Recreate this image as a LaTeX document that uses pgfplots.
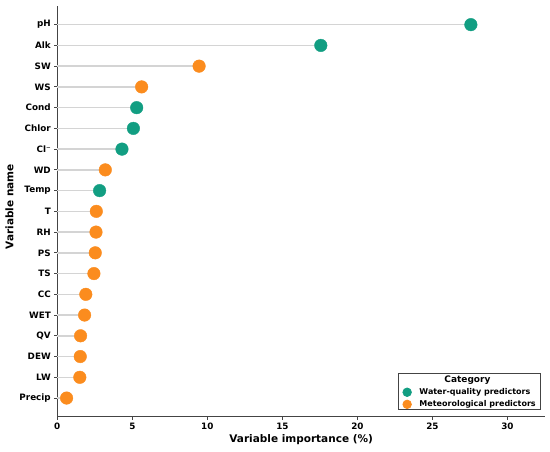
\documentclass[border=0pt]{standalone}
\usepackage{pgfplots}
\pgfplotsset{compat=1.18}
\usepackage{fontspec}
\setmainfont{DejaVu Sans}
\definecolor{wq}{HTML}{129E82}
\definecolor{met}{HTML}{FB8C1E}
\definecolor{stemc}{HTML}{D4D4D4}
\definecolor{spine}{HTML}{444444}
\pgfplotstableread{
y val
18 27.56
17 17.56
14 5.29
13 5.07
12 4.31
10 2.82
}\wqdata
\pgfplotstableread{
y val
16 9.45
15 5.62
11 3.20
9 2.60
8 2.58
7 2.53
6 2.44
5 1.90
4 1.82
3 1.55
2 1.53
1 1.50
0 0.62
}\metdata
\pgfplotsset{dotleg/.style={legend image code/.code={\draw[##1,mark size=4.3pt] plot coordinates {(0.2cm,0cm)}; \path (0cm,0cm) (0.55cm,0cm);}}}
\begin{document}
\begin{tikzpicture}
\begin{axis}[
 at={(0,0)}, anchor=south west,
 scale only axis, width=487.7pt, height=410.7pt,
 xmin=0, xmax=32.5, ymin=-0.9, ymax=18.9,
 axis x line*=bottom, axis y line*=left,
 axis line style={-, spine, line width=0.9pt},
 xtick={0,5,...,30},
 ytick={0,...,18},
 yticklabels={Precip,LW,DEW,QV,WET,CC,TS,PS,RH,T,Temp,WD,Cl⁻,Chlor,Cond,WS,SW,Alk,pH},
 tick align=outside, major tick length=3pt,
 tick style={spine, line width=0.9pt},
 ticklabel style={font=\fontsize{8.8}{10}\selectfont\bfseries},
 /pgf/number format/assume math mode=true,
 xlabel={Variable importance (\%)}, ylabel={Variable name},
 label style={font=\fontsize{10.5}{12}\selectfont\bfseries},
 xlabel style={at={(axis description cs:0.5,0)}, anchor=center, yshift=-23.3pt},
 ylabel style={at={(axis description cs:-0.098,0.511)}, anchor=center},
 legend style={at={(0.992,0.0163)}, anchor=south east, draw=spine, line width=0.7pt,
   font=\fontsize{8}{9}\selectfont\bfseries, row sep=3.5pt, inner xsep=3pt, inner ysep=1pt,
   nodes={inner ysep=0pt}},
 legend cell align=left,
 clip=false,
]
\addplot[xcomb, stemc, line width=1.4pt, forget plot] table[x=val,y=y] {\wqdata};
\addplot[xcomb, stemc, line width=1.4pt, forget plot] table[x=val,y=y] {\metdata};
\addlegendimage{empty legend}
\addlegendentry{\hspace*{25pt}\rule{0pt}{9pt}\fontsize{9}{10}\selectfont Category}
\addplot[only marks, mark=*, mark size=6.3pt, color=wq, mark options={fill=wq, draw=wq}, dotleg] table[x=val,y=y] {\wqdata};
\addlegendentry{Water-quality predictors}
\addplot[only marks, mark=*, mark size=6.3pt, color=met, mark options={fill=met, draw=met}, dotleg] table[x=val,y=y] {\metdata};
\addlegendentry{Meteorological predictors}
\end{axis}
\pgfresetboundingbox
\useasboundingbox (-57.3pt,-34.3pt) rectangle (492.7pt,416.7pt);
\end{tikzpicture}
\end{document}
